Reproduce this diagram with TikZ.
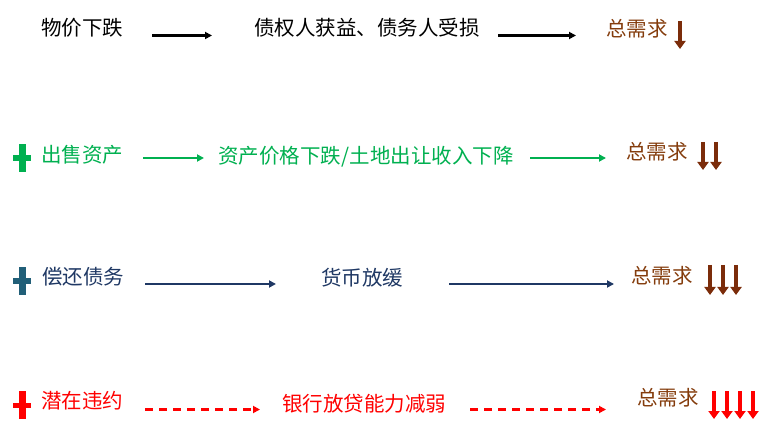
\documentclass[tikz,border=0pt]{standalone}
\usepackage{fontspec}
\setmainfont{Noto Sans CJK SC}
\usetikzlibrary{arrows.meta}
\definecolor{cgreen}{HTML}{00B050}
\definecolor{cnavy}{HTML}{1F3864}
\definecolor{cteal}{HTML}{215F78}
\definecolor{cbrown}{HTML}{843C0C}
\definecolor{cdark}{HTML}{7B2C0A}
\definecolor{cred}{HTML}{FF0000}
\tikzset{
  lbl/.style={inner sep=0pt, font=\fontsize{20.5}{20.5}\selectfont},
  flow/.style={line width=2.2pt, -{Triangle[length=7pt,width=7pt]}},
  dflow/.style={line width=2.5pt, dash pattern=on 8pt off 6pt, -{Triangle[length=7pt,width=7pt]}},
  down/.style={line width=4pt, cdark, -{Triangle[length=8pt,width=11pt]}},
}
\newcommand{\plussign}[3]{% x, y, colour
  \fill[#3] (#1-3.5,#2-14) rectangle (#1+3.5,#2+14);
  \fill[#3] (#1-9,#2-2.5) rectangle (#1+9,#2+3);
}
\begin{document}
\begin{tikzpicture}[x=1pt,y=-1pt]
\useasboundingbox (0,0) rectangle (770,435);
% Row 1
\node[lbl] (a1) at (82,28) {物价下跌};
\node[lbl] (b1) at (367,28) {债权人获益、债务人受损};
\node[lbl, text=cbrown] (c1) at (637,29) {总需求};
\coordinate (p1s) at (152,35.5); \coordinate (p1e) at (212,35.5);
\coordinate (q1s) at (498,35.5); \coordinate (q1e) at (576,35.5);
\draw[flow] (p1s) -- (p1e);
\draw[flow] (q1s) -- (q1e);
\draw[down] (680,21) -- (680,49);
% Row 2
\plussign{22}{158}{cgreen}
\node[lbl, text=cgreen] (a2) at (82,155) {出售资产};
\node[lbl, text=cgreen] (b2) at (366,157) {资产价格下跌/土地出让收入下降};
\node[lbl, text=cbrown] (c2) at (657,152) {总需求};
\coordinate (p2s) at (143,158); \coordinate (p2e) at (204,158);
\coordinate (q2s) at (530,158); \coordinate (q2e) at (606,158);
\draw[flow, cgreen] (p2s) -- (p2e);
\draw[flow, cgreen] (q2s) -- (q2e);
\draw[down] (703,142) -- (703,170);
\draw[down] (716,142) -- (716,170);
% Row 3
\plussign{22}{281}{cteal}
\node[lbl, text=cnavy] (a3) at (83,277) {偿还债务};
\node[lbl, text=cnavy] (b3) at (362,278) {货币放缓};
\node[lbl, text=cbrown] (c3) at (662,276) {总需求};
\coordinate (p3s) at (145,284); \coordinate (p3e) at (276,284);
\coordinate (q3s) at (449,284); \coordinate (q3e) at (614,284);
\draw[flow, cnavy] (p3s) -- (p3e);
\draw[flow, cnavy] (q3s) -- (q3e);
\foreach \x in {710,723,736} \draw[down] (\x,265) -- (\x,295);
% Row 4
\plussign{22}{405}{cred}
\node[lbl, text=cred] (a4) at (82,401) {潜在违约};
\node[lbl, text=cred] (b4) at (364,404) {银行放贷能力减弱};
\node[lbl, text=cbrown] (c4) at (668,398) {总需求};
\coordinate (p4s) at (145,409.5); \coordinate (p4e) at (260,409.5);
\coordinate (q4s) at (470,409.5); \coordinate (q4e) at (606,409.5);
\draw[dflow, cred] (p4s) -- (p4e);
\draw[dflow, cred] (q4s) -- (q4e);
\foreach \x in {714,727,740,753} \draw[down, cred] (\x,391) -- (\x,419);
\end{tikzpicture}
\end{document}
